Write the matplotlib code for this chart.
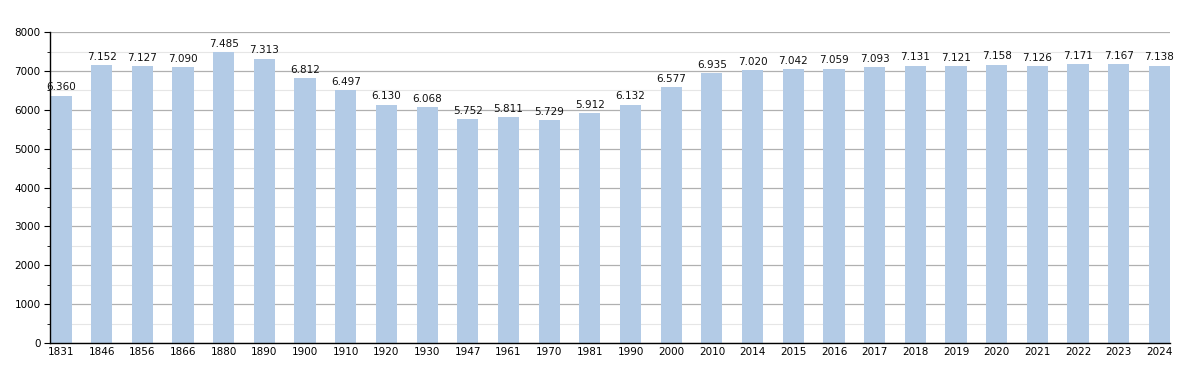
import matplotlib
matplotlib.use("Agg")
import matplotlib.pyplot as plt
import matplotlib.ticker as mticker
import numpy as np

years = ["1831", "1846", "1856", "1866", "1880", "1890", "1900", "1910", "1920", "1930",
         "1947", "1961", "1970", "1981", "1990", "2000", "2010", "2014", "2015", "2016",
         "2017", "2018", "2019", "2020", "2021", "2022", "2023", "2024"]
population = [6360, 7152, 7127, 7090, 7485, 7313, 6812, 6497, 6130, 6068,
              5752, 5811, 5729, 5912, 6132, 6577, 6935, 7020, 7042, 7059,
              7093, 7131, 7121, 7158, 7126, 7171, 7167, 7138]

fig = plt.figure(figsize=(12, 3.73), dpi=100)
ax = fig.add_axes([0.042, 0.0804, 0.933, 0.8336])

x = np.arange(len(years))
bw = 0.52
ax.bar(x, population, width=bw, color="#b3cbe6", zorder=2)

for xi, v in zip(x, population):
    label = f"{v / 1000:.3f}"
    ax.text(xi, v + 90, label, ha="center", va="bottom", fontsize=7.5,
            color="#111111", zorder=3)

ax.set_xlim(-bw / 2, len(years) - 1 + bw / 2)
ax.set_ylim(0, 8000)
ax.set_xticks(x)
ax.set_xticklabels(years)
ax.yaxis.set_major_locator(mticker.MultipleLocator(1000))
ax.yaxis.set_minor_locator(mticker.MultipleLocator(500))

ax.grid(axis="y", which="major", color="#b0b0b0", linewidth=0.9, zorder=0)
ax.grid(axis="y", which="minor", color="#e6e6e6", linewidth=0.8, zorder=0)
ax.set_axisbelow(True)

for s in ["top", "right"]:
    ax.spines[s].set_visible(False)
ax.spines["left"].set_color("#000000")
ax.spines["bottom"].set_color("#000000")
ax.spines["left"].set_linewidth(1.0)
ax.spines["bottom"].set_linewidth(1.0)

ax.tick_params(axis="x", length=0, labelsize=7.5, pad=3)
ax.tick_params(axis="y", which="major", length=4, labelsize=7.5, pad=3)
ax.tick_params(axis="y", which="minor", length=2)

fig.savefig("out.png", dpi=100, facecolor="white")
